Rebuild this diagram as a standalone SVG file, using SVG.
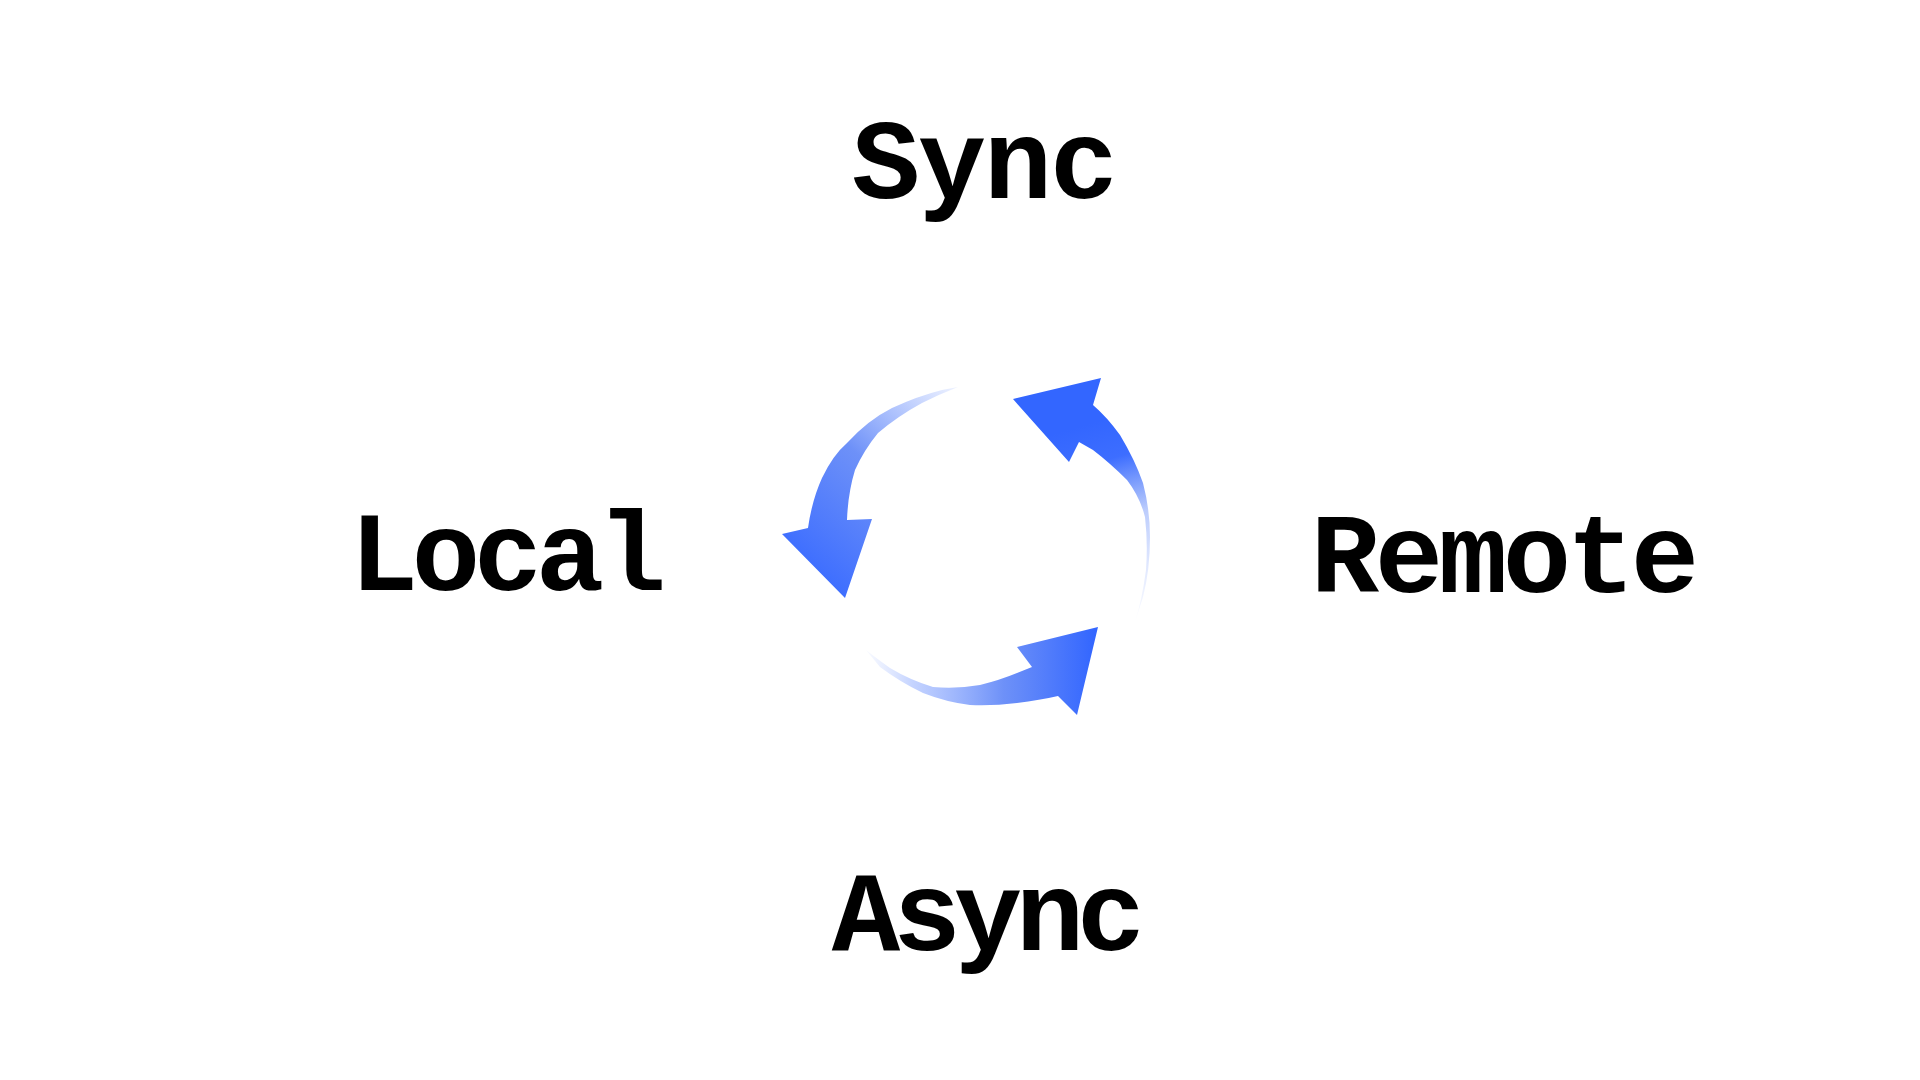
<svg xmlns="http://www.w3.org/2000/svg" width="1920" height="1080" viewBox="0 0 1920 1080">
<style>
.lbl{font-family:"Liberation Mono","Courier New",monospace;font-weight:bold;font-size:114px;fill:#000;text-anchor:middle}
</style>
<defs>
<linearGradient id="gTop" gradientUnits="userSpaceOnUse" x1="1085" y1="425" x2="1140" y2="615">
<stop offset="0" stop-color="#3366ff" stop-opacity="1"/>
<stop offset="0.2" stop-color="#3366ff" stop-opacity="0.95"/>
<stop offset="0.5" stop-color="#3f6ff8" stop-opacity="0.35"/>
<stop offset="1" stop-color="#6f92ff" stop-opacity="0.05"/>
</linearGradient>
<linearGradient id="gLeft" gradientUnits="userSpaceOnUse" x1="800" y1="560" x2="958" y2="387">
<stop offset="0" stop-color="#3366ff" stop-opacity="0.95"/>
<stop offset="0.5" stop-color="#3d6cf6" stop-opacity="0.75"/>
<stop offset="1" stop-color="#5580ff" stop-opacity="0.1"/>
</linearGradient>
<linearGradient id="gBot" gradientUnits="userSpaceOnUse" x1="1095" y1="660" x2="866" y2="660">
<stop offset="0" stop-color="#3366ff" stop-opacity="1"/>
<stop offset="0.4" stop-color="#3d6cf6" stop-opacity="0.75"/>
<stop offset="0.8" stop-color="#5a84ff" stop-opacity="0.35"/>
<stop offset="1" stop-color="#7d9dff" stop-opacity="0.05"/>
</linearGradient>
</defs>
<rect width="1920" height="1080" fill="#fff"/>
<g id="connectors">
<path id="arrow-top" fill="url(#gTop)" d="M1013,399 L1101,378 L1093,405 Q1107,417 1120,435 Q1135,460 1143,483 Q1150,510 1150,537 Q1150,570 1143,597 L1135,622 Q1142,600 1146,570 Q1148,543 1145,517 Q1140,497 1127,480 Q1110,463 1093,450 L1079,442 L1069,462 Z"/>
<path id="arrow-left" fill="url(#gLeft)" d="M845,598 L782,534 L808,528 Q812,500 822,478 Q833,455 847,443 Q868,420 892,408 Q918,396 942,390 L958,387 Q940,394 922,403 Q898,416 878,433 Q864,450 855,470 Q848,493 847,520 L872,519 Z"/>
<path id="arrow-bot" fill="url(#gBot)" d="M1098,627 L1077,715 L1058,696 Q1040,700 1017,703 Q993,706 970,705 Q946,702 923,693 Q900,682 880,667 L866,650 Q876,658 890,668 Q910,680 933,687 Q957,689 980,685 Q1000,680 1017,673 L1032,667 L1017,647 Z"/>
</g>
<g id="node-sync"><text class="lbl" x="886 952 1018 1084" y="198">Sync</text></g>
<g id="node-local"><text class="lbl" x="384 446 508 570 632" y="590">Local</text></g>
<g id="node-remote"><text class="lbl" x="1345 1409 1473 1537 1601 1665" y="592">Remote</text></g>
<g id="node-async"><text class="lbl" x="866 927 988 1050 1111" y="950">Async</text></g>
</svg>
